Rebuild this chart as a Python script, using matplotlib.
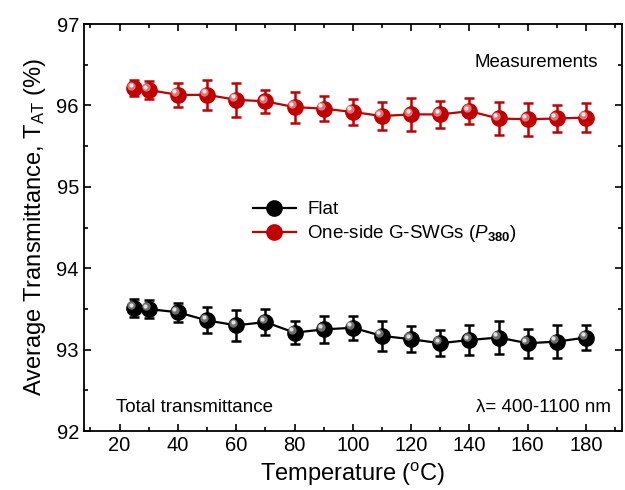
import matplotlib
matplotlib.use('Agg')
import matplotlib.pyplot as plt
import matplotlib.transforms as mtrans
from matplotlib.ticker import MultipleLocator

plt.rcParams['font.family'] = ['Liberation Sans', 'DejaVu Sans']
plt.rcParams['mathtext.fontset'] = 'custom'
plt.rcParams['mathtext.rm'] = 'Liberation Sans'
plt.rcParams['mathtext.it'] = 'Liberation Sans:italic'
plt.rcParams['mathtext.bf'] = 'Liberation Sans:bold'

# temperatures (oC)
temps = [25, 30, 40, 50, 60, 70, 80, 90, 100, 110, 120, 130, 140, 150, 160, 170, 180]

# flat sample
flat = [93.51, 93.50, 93.46, 93.36, 93.30, 93.34, 93.21, 93.25, 93.27, 93.17,
        93.13, 93.08, 93.12, 93.15, 93.08, 93.10, 93.15]
flat_err = [0.11, 0.11, 0.12, 0.16, 0.19, 0.16, 0.14, 0.17, 0.15, 0.18,
            0.16, 0.16, 0.18, 0.20, 0.18, 0.20, 0.15]

# one-side G-SWGs (P380)
swg = [96.21, 96.19, 96.13, 96.13, 96.07, 96.05, 95.98, 95.96, 95.92, 95.87,
       95.89, 95.89, 95.93, 95.84, 95.83, 95.84, 95.85]
swg_err = [0.10, 0.11, 0.15, 0.18, 0.21, 0.14, 0.19, 0.15, 0.16, 0.17,
           0.20, 0.17, 0.16, 0.20, 0.20, 0.16, 0.18]


def glossy(ax, x, y, base, mid, hi, label):
    # connecting line + dark ball
    ax.plot(x, y, color=base, lw=1.6, marker='o', ms=11,
            mfc=base, mec=base, label=label, zorder=3)
    # highlight, shifted up-left
    off = mtrans.offset_copy(ax.transData, fig=ax.figure, x=-2.0, y=2.0, units='points')
    ax.plot(x, y, 'o', ms=6, color=mid, mec='none', transform=off, zorder=4, alpha=0.8)
    off2 = mtrans.offset_copy(ax.transData, fig=ax.figure, x=-2.5, y=2.5, units='points')
    ax.plot(x, y, 'o', ms=3, color=hi, mec='none', transform=off2, zorder=5)


fig = plt.figure(figsize=(6.25, 4.9), dpi=100)
ax = fig.add_axes([0.134, 0.120, 0.861, 0.831])

ax.errorbar(temps, flat, yerr=flat_err, fmt='none', ecolor='black', elinewidth=1.8,
            capsize=3.5, capthick=1.8, zorder=2)
ax.errorbar(temps, swg, yerr=swg_err, fmt='none', ecolor='#c00000', elinewidth=1.8,
            capsize=3.5, capthick=1.8, zorder=2)

glossy(ax, temps, flat, 'black', '#8a8a8a', '#e0e0e0', 'Flat')
glossy(ax, temps, swg, '#c00000', '#e89090', '#ffe8e8',
       r'One-side G-SWGs ($\mathit{P}_{\mathbf{380}}$)')

ax.set_xlim(7.7, 192.3)
ax.set_ylim(92, 97)
ax.xaxis.set_major_locator(MultipleLocator(20))
ax.xaxis.set_minor_locator(MultipleLocator(10))
ax.yaxis.set_major_locator(MultipleLocator(1))
ax.yaxis.set_minor_locator(MultipleLocator(0.5))
ax.tick_params(which='both', direction='in', top=True, right=True, labelsize=14.5)
ax.tick_params(which='major', length=5, width=1.2)
ax.tick_params(which='minor', length=3, width=1.2)
for s in ax.spines.values():
    s.set_linewidth(1.3)

ax.set_xlabel(r'Temperature ($^{\mathrm{o}}$C)', fontsize=17, labelpad=4)
ax.set_ylabel(r'Average Transmittance, T$_{\mathrm{AT}}$ (%)', fontsize=17, labelpad=6)

leg = ax.legend(loc='upper left', bbox_to_anchor=(0.30, 0.583), frameon=False,
                fontsize=13.5, handlelength=2.3, handletextpad=0.6, labelspacing=0.25,
                borderaxespad=0)

ax.text(0.955, 0.905, 'Measurements', transform=ax.transAxes, fontsize=13.5,
        ha='right', va='center')
ax.text(0.06, 0.058, 'Total transmittance', transform=ax.transAxes, fontsize=13.5,
        ha='left', va='center')
ax.text(0.98, 0.058, 'λ= 400-1100 nm', transform=ax.transAxes, fontsize=13.5,
        ha='right', va='center')

fig.savefig('out.png', dpi=100)
